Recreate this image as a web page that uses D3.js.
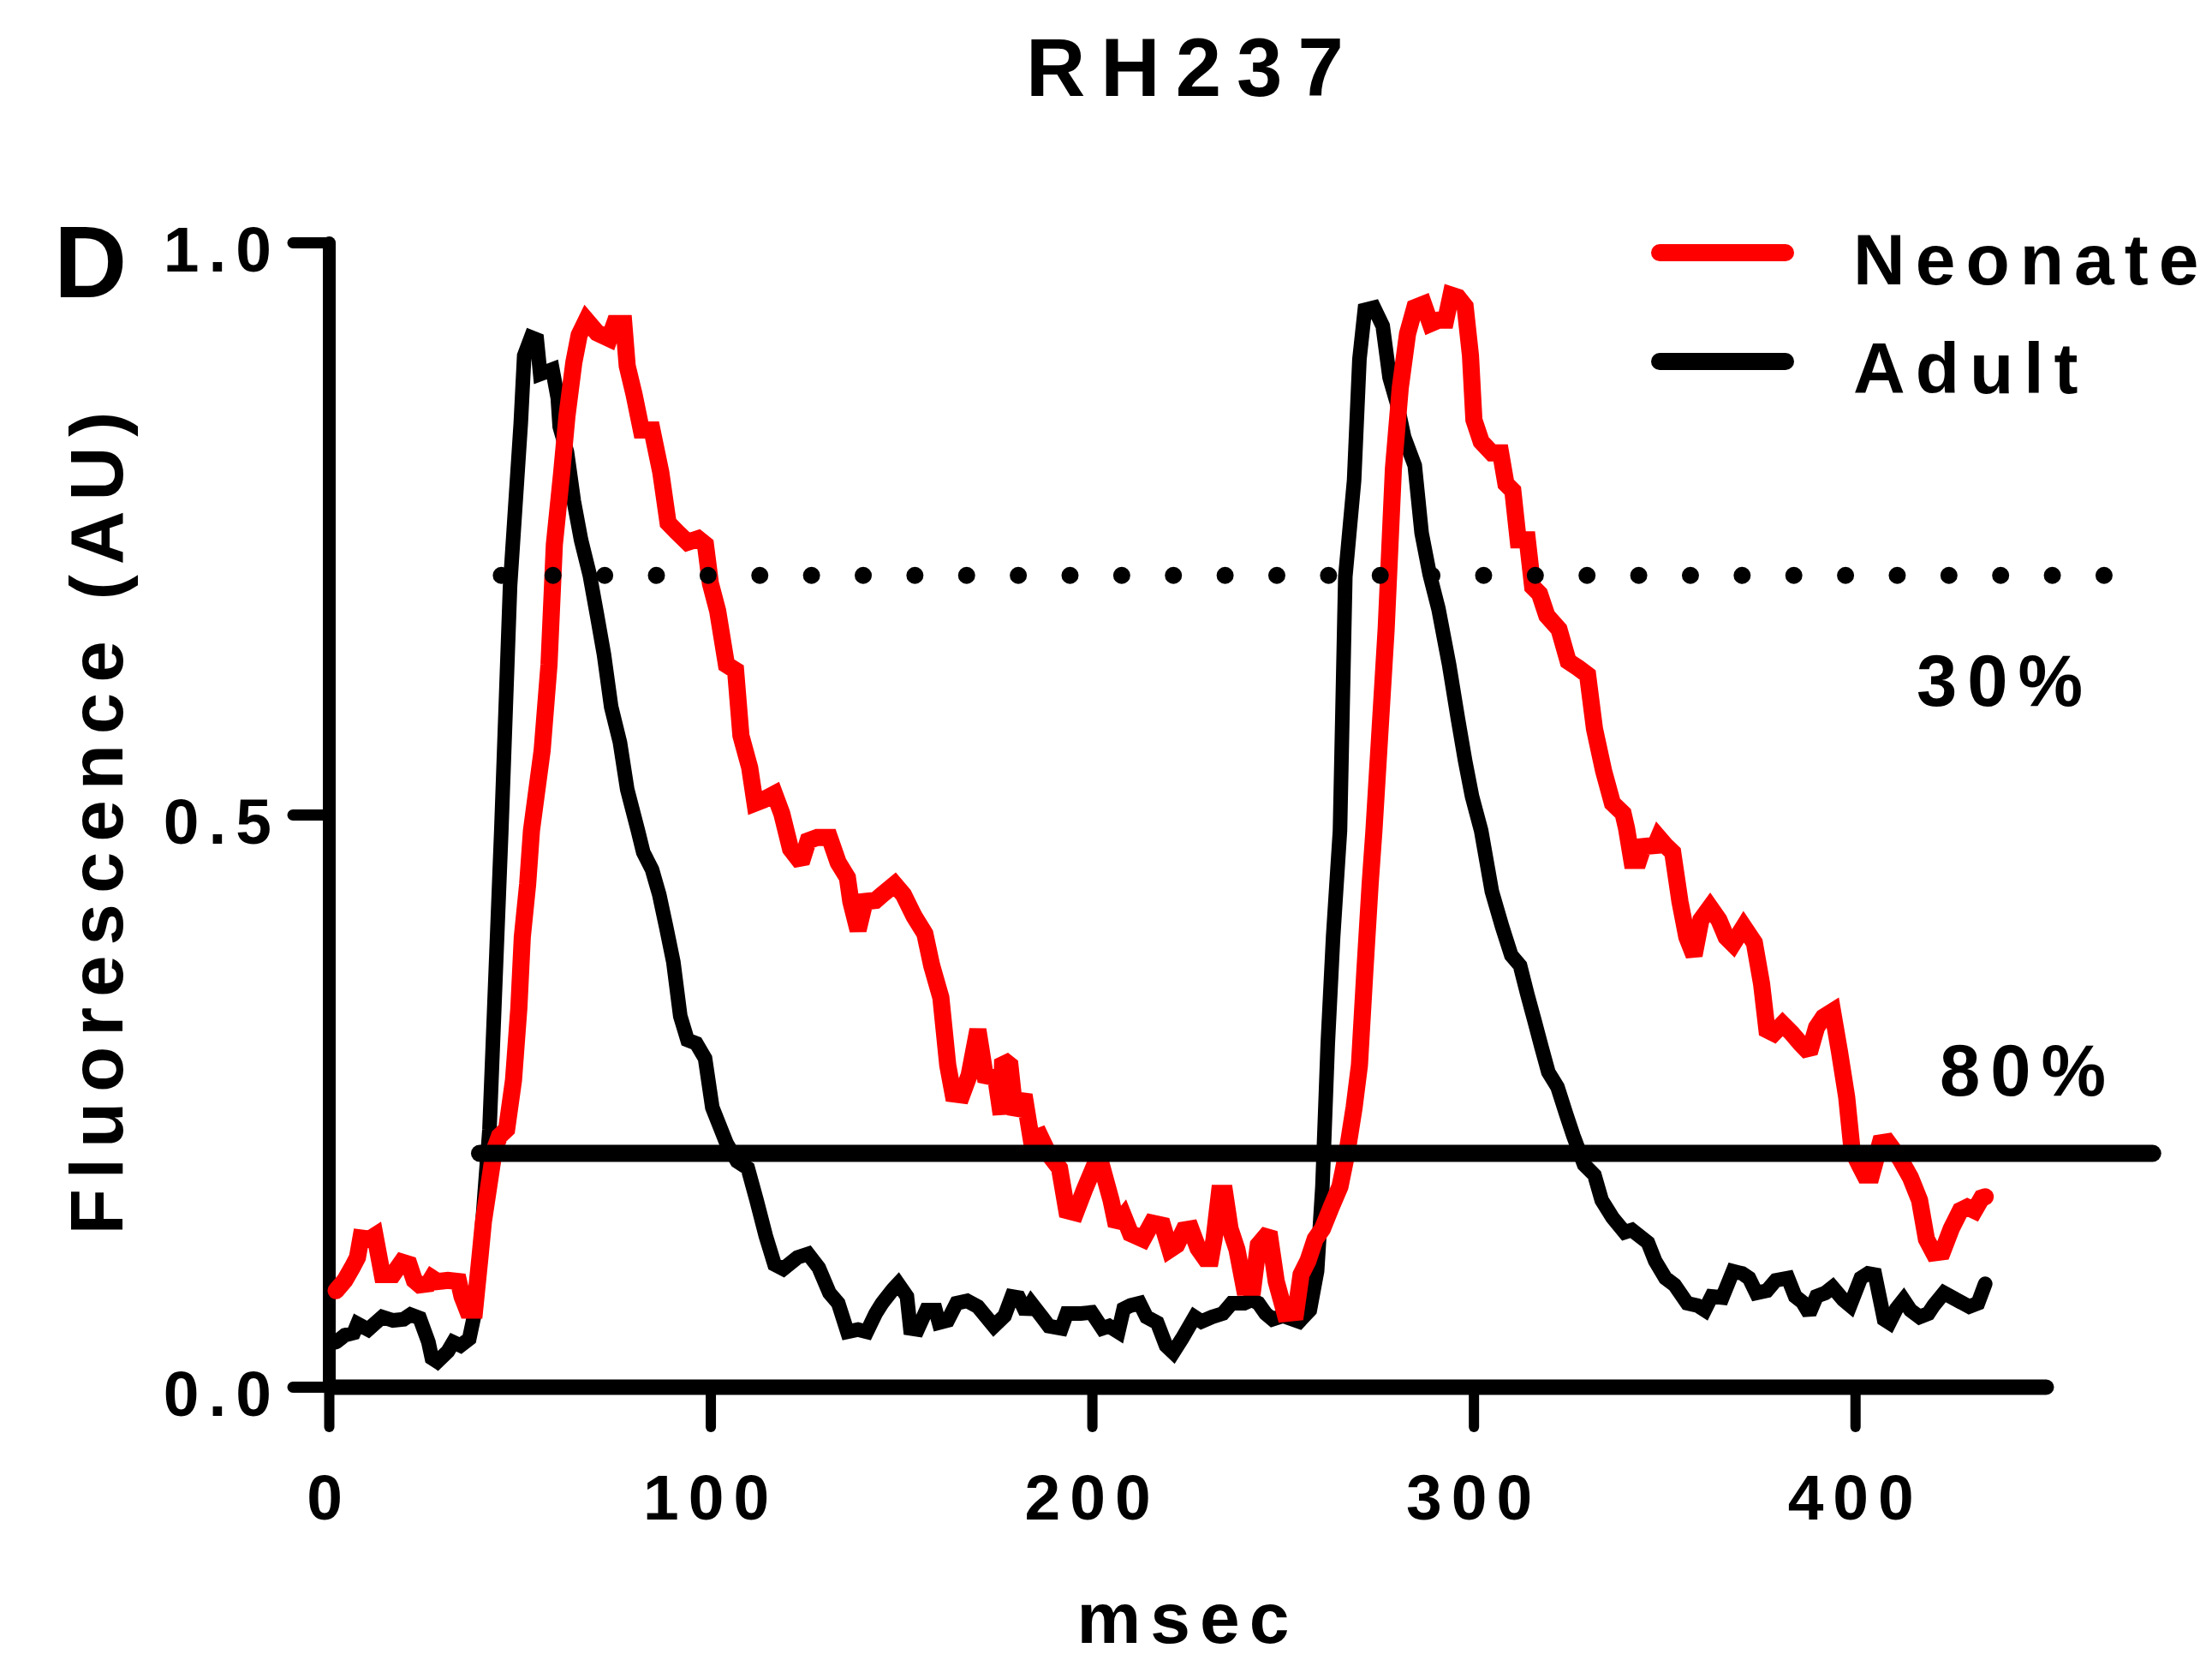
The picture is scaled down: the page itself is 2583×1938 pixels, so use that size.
<!DOCTYPE html>
<html>
<head>
<meta charset="utf-8">
<script src="https://cdn.jsdelivr.net/npm/d3@7"></script>
<style>
  body { margin: 0; background: #fff; }
  text { font-family: "Liberation Sans", Arial, sans-serif; font-weight: bold; fill: #000; }
</style>
</head>
<body>
<div class="chart"></div>
<script>
// time (msec) and fluorescence
const adultTime = [1.9, 4.2, 6.5, 7.5, 10.3, 14.0, 16.8, 19.6, 21.4, 23.8, 26.1, 27.0, 28.4, 31.2, 32.6, 34.5, 36.8, 38.2, 39.5, 42.1, 45.2, 47.5, 50.3, 51.2, 53.0, 54.5, 55.4, 58.6, 60.0, 60.5, 62.4, 64.2, 66.1, 68.4, 70.3, 72.1, 74.0, 76.3, 78.2, 81.0, 82.4, 84.7, 86.6, 88.4, 90.3, 92.1, 94.0, 96.3, 98.6, 100.5, 104.2, 107.0, 109.8, 112.1, 114.5, 116.8, 119.1, 122.8, 125.6, 128.4, 131.2, 133.5, 135.9, 138.7, 141.0, 143.3, 145.0, 147.8, 149.2, 151.5, 152.4, 154.3, 156.6, 159.0, 159.9, 162.2, 164.5, 167.3, 170.1, 174.3, 177.1, 179.0, 180.8, 182.7, 184.1, 186.9, 188.7, 192.0, 193.4, 197.1, 199.9, 202.7, 204.5, 206.9, 208.3, 210.1, 212.5, 214.3, 217.1, 219.4, 221.3, 223.6, 226.9, 228.7, 231.5, 234.3, 236.6, 239.9, 241.8, 243.6, 245.5, 247.3, 250.1, 254.3, 257.1, 259.0, 260.4, 261.8, 263.2, 265.0, 266.4, 268.7, 270.1, 271.5, 273.9, 276.2, 278.0, 279.9, 281.8, 284.6, 286.4, 288.5, 290.8, 293.6, 295.9, 297.8, 299.6, 302.0, 304.8, 307.5, 309.9, 312.2, 314.1, 315.9, 317.8, 319.6, 322.0, 324.3, 326.2, 329.0, 331.7, 333.6, 336.4, 339.6, 341.5, 345.7, 347.6, 350.3, 352.7, 356.0, 358.7, 360.6, 362.4, 365.2, 368.0, 370.4, 372.2, 374.1, 376.9, 379.2, 382.4, 384.3, 386.2, 388.0, 389.9, 392.2, 394.1, 396.9, 398.7, 401.5, 403.4, 405.2, 407.6, 409.0, 410.8, 412.7, 414.5, 416.9, 419.2, 420.6, 423.3, 426.6, 429.9, 432.2, 434.1];
const adultValue = [0.039, 0.045, 0.047, 0.055, 0.050, 0.061, 0.058, 0.059, 0.063, 0.060, 0.039, 0.025, 0.022, 0.031, 0.039, 0.036, 0.042, 0.064, 0.110, 0.225, 0.486, 0.700, 0.842, 0.901, 0.917, 0.915, 0.885, 0.889, 0.864, 0.839, 0.817, 0.774, 0.740, 0.709, 0.674, 0.640, 0.594, 0.563, 0.522, 0.486, 0.467, 0.452, 0.430, 0.402, 0.371, 0.324, 0.303, 0.300, 0.287, 0.244, 0.213, 0.197, 0.191, 0.163, 0.132, 0.107, 0.103, 0.113, 0.116, 0.104, 0.082, 0.073, 0.048, 0.050, 0.048, 0.064, 0.073, 0.085, 0.090, 0.079, 0.051, 0.050, 0.067, 0.067, 0.056, 0.058, 0.073, 0.075, 0.070, 0.053, 0.062, 0.079, 0.078, 0.065, 0.073, 0.061, 0.053, 0.051, 0.064, 0.064, 0.065, 0.051, 0.053, 0.048, 0.068, 0.071, 0.073, 0.061, 0.056, 0.036, 0.030, 0.042, 0.061, 0.057, 0.061, 0.064, 0.073, 0.073, 0.076, 0.073, 0.064, 0.059, 0.062, 0.057, 0.067, 0.101, 0.175, 0.300, 0.393, 0.486, 0.708, 0.792, 0.898, 0.941, 0.943, 0.927, 0.882, 0.860, 0.830, 0.805, 0.746, 0.710, 0.680, 0.631, 0.584, 0.547, 0.516, 0.486, 0.433, 0.402, 0.377, 0.368, 0.343, 0.321, 0.297, 0.275, 0.262, 0.238, 0.219, 0.194, 0.185, 0.163, 0.148, 0.135, 0.137, 0.126, 0.110, 0.095, 0.089, 0.073, 0.071, 0.067, 0.079, 0.078, 0.101, 0.099, 0.095, 0.082, 0.084, 0.093, 0.095, 0.079, 0.074, 0.064, 0.079, 0.082, 0.087, 0.076, 0.071, 0.095, 0.099, 0.098, 0.059, 0.056, 0.068, 0.076, 0.067, 0.061, 0.064, 0.071, 0.082, 0.076, 0.070, 0.073, 0.090];

const neonateTime = [1.9, 4.2, 6.1, 7.5, 8.4, 10.7, 12.1, 14.0, 16.8, 19.1, 21.0, 22.4, 23.8, 26.1, 27.0, 28.4, 31.2, 34.0, 34.9, 36.3, 38.2, 39.6, 40.5, 41.9, 43.3, 44.7, 46.6, 48.4, 49.8, 50.7, 52.1, 53.1, 55.9, 57.7, 59.1, 61.0, 62.4, 64.2, 65.6, 67.5, 70.3, 73.5, 74.9, 77.3, 78.2, 80.0, 81.9, 84.7, 87.0, 88.9, 91.2, 94.0, 96.8, 98.7, 100.0, 101.9, 104.2, 106.6, 108.0, 110.3, 111.7, 114.0, 116.8, 118.7, 121.0, 123.8, 125.6, 128.0, 131.2, 133.5, 135.9, 136.8, 138.7, 140.5, 143.3, 145.0, 148.3, 150.6, 153.4, 156.2, 158.0, 160.4, 162.2, 163.6, 165.9, 167.8, 170.1, 172.0, 174.8, 176.2, 176.6, 178.5, 179.9, 182.2, 184.1, 186.4, 188.7, 191.5, 193.4, 195.7, 198.0, 200.4, 202.7, 205.0, 206.4, 208.3, 210.1, 213.4, 215.7, 218.5, 220.4, 222.2, 224.1, 225.9, 227.8, 229.7, 231.1, 232.0, 233.4, 234.8, 236.2, 238.0, 239.9, 242.2, 243.6, 246.4, 248.3, 250.6, 253.4, 254.8, 256.6, 258.5, 260.4, 262.7, 265.0, 266.9, 268.7, 270.1, 271.5, 272.9, 273.9, 277.1, 279.0, 280.8, 282.7, 284.6, 286.9, 288.7, 290.8, 292.7, 294.1, 295.9, 297.8, 299.2, 300.1, 302.0, 304.8, 307.1, 308.5, 310.3, 311.7, 314.1, 315.5, 317.3, 319.2, 322.4, 324.8, 327.5, 329.9, 331.7, 334.1, 336.4, 339.2, 340.1, 341.5, 343.3, 344.5, 347.6, 348.5, 350.3, 352.2, 354.1, 355.9, 357.8, 359.6, 362.0, 364.3, 366.2, 368.0, 370.8, 373.6, 375.5, 376.9, 378.7, 381.0, 383.4, 385.7, 388.0, 389.9, 391.7, 394.1, 395.9, 397.8, 399.2, 401.1, 402.5, 404.3, 406.6, 408.5, 411.8, 414.5, 416.9, 418.7, 420.6, 422.9, 425.2, 427.6, 429.4, 431.3, 433.2, 434.1];
const neonateValue = [0.084, 0.093, 0.104, 0.113, 0.130, 0.129, 0.132, 0.098, 0.098, 0.109, 0.107, 0.093, 0.089, 0.090, 0.095, 0.092, 0.093, 0.092, 0.079, 0.067, 0.067, 0.113, 0.144, 0.175, 0.206, 0.219, 0.225, 0.268, 0.331, 0.393, 0.439, 0.486, 0.556, 0.631, 0.736, 0.798, 0.848, 0.895, 0.919, 0.932, 0.921, 0.916, 0.929, 0.929, 0.892, 0.867, 0.836, 0.836, 0.799, 0.755, 0.747, 0.738, 0.741, 0.736, 0.702, 0.678, 0.631, 0.626, 0.569, 0.541, 0.510, 0.513, 0.518, 0.501, 0.470, 0.458, 0.477, 0.480, 0.480, 0.458, 0.445, 0.424, 0.399, 0.424, 0.425, 0.430, 0.439, 0.430, 0.411, 0.396, 0.368, 0.340, 0.281, 0.256, 0.255, 0.272, 0.312, 0.272, 0.270, 0.238, 0.286, 0.281, 0.238, 0.255, 0.216, 0.219, 0.203, 0.191, 0.154, 0.152, 0.172, 0.191, 0.191, 0.163, 0.141, 0.149, 0.134, 0.129, 0.143, 0.141, 0.120, 0.124, 0.137, 0.138, 0.121, 0.112, 0.112, 0.129, 0.169, 0.169, 0.138, 0.120, 0.087, 0.087, 0.124, 0.135, 0.092, 0.064, 0.065, 0.098, 0.110, 0.129, 0.138, 0.157, 0.175, 0.206, 0.244, 0.281, 0.362, 0.439, 0.486, 0.662, 0.802, 0.873, 0.920, 0.943, 0.946, 0.929, 0.932, 0.932, 0.954, 0.952, 0.944, 0.901, 0.845, 0.826, 0.816, 0.816, 0.789, 0.783, 0.740, 0.740, 0.699, 0.693, 0.674, 0.662, 0.634, 0.628, 0.622, 0.575, 0.538, 0.510, 0.501, 0.488, 0.460, 0.460, 0.472, 0.473, 0.480, 0.473, 0.467, 0.424, 0.393, 0.377, 0.408, 0.419, 0.408, 0.393, 0.387, 0.402, 0.388, 0.352, 0.312, 0.309, 0.317, 0.309, 0.300, 0.292, 0.314, 0.323, 0.328, 0.293, 0.253, 0.207, 0.194, 0.185, 0.185, 0.213, 0.214, 0.199, 0.183, 0.163, 0.129, 0.117, 0.118, 0.138, 0.154, 0.157, 0.154, 0.165, 0.166];

const seriesNames = ["Neonate", "Adult"];
const seriesColors = ["#ff0000", "#000000"];

// repolarisation levels: 30% (dotted) and 80% (solid)
const levelLabels = ["30%", "80%"];
const levelValues = [0.709, 0.204];
const levelStart = [45.2, 39.5];
const levelEnd = [465.3, 478];

const xTicks = [0, 100, 200, 300, 400];
const yTicks = [0, 0.5, 1.0];

const width = 2583,
  height = 1938;

const svg = d3.select(".chart")
  .append("svg")
  .attr("width", width)
  .attr("height", height)
  .style("display", "block");

const x = d3.scaleLinear().domain([0, 450]).range([384, 2389]);
const y = d3.scaleLinear().domain([0, 1]).range([1619, 283]);

// axes
const xAxis = svg.append("g")
  .attr("transform", `translate(0, ${y(0)})`)
  .call(d3.axisBottom(x)
    .tickValues(xTicks)
    .tickSize(47)
    .tickSizeOuter(0)
    .tickPadding(55)
    .tickFormat(d3.format("d")));

const yAxis = svg.append("g")
  .attr("transform", `translate(${x(0)}, 0)`)
  .call(d3.axisLeft(y)
    .tickValues(yTicks)
    .tickSize(42)
    .tickSizeOuter(0)
    .tickPadding(14)
    .tickFormat(d3.format(".1f")));

xAxis.select(".domain").attr("stroke-width", 18).attr("stroke-linecap", "round");
xAxis.selectAll(".tick line").attr("stroke-width", 12).attr("stroke-linecap", "round");
yAxis.select(".domain").attr("stroke-width", 15).attr("stroke-linecap", "round");
yAxis.selectAll(".tick line").attr("stroke-width", 13).attr("stroke-linecap", "round");

xAxis.selectAll(".tick text")
  .attr("font-size", 75)
  .attr("font-family", null)
  .style("letter-spacing", "11px");
yAxis.selectAll(".tick text")
  .attr("font-size", 75)
  .attr("font-family", null)
  .attr("dy", "0.45em")
  .style("letter-spacing", "11px");

// traces, adult underneath
const line = d3.line()
  .x(d => x(d[0]))
  .y(d => y(d[1]));

const traces = [
  { name: seriesNames[1], color: seriesColors[1], width: 17, pts: d3.zip(adultTime, adultValue) },
  { name: seriesNames[0], color: seriesColors[0], width: 20, pts: d3.zip(neonateTime, neonateValue) }
];

svg.selectAll(".trace")
  .data(traces)
  .enter()
  .append("path")
  .attr("class", "trace")
  .attr("d", d => line(d.pts))
  .attr("fill", "none")
  .attr("stroke", d => d.color)
  .attr("stroke-width", d => d.width)
  .attr("stroke-linejoin", "miter")
  .attr("stroke-miterlimit", 2)
  .attr("stroke-linecap", "round");

// threshold lines
const dotGap = x(13.55) - x(0);
levelValues.forEach((v, i) => {
  svg.append("line")
    .attr("x1", x(levelStart[i]))
    .attr("x2", x(levelEnd[i]))
    .attr("y1", y(v))
    .attr("y2", y(v))
    .attr("stroke", "#000")
    .attr("stroke-width", 20)
    .attr("stroke-linecap", "round")
    .attr("stroke-dasharray", i === 0 ? `0 ${dotGap}` : null);
});

svg.append("text").attr("x", 2238).attr("y", 824)
  .attr("font-size", 85).style("letter-spacing", "12px").text(levelLabels[0]);
svg.append("text").attr("x", 2265).attr("y", 1279)
  .attr("font-size", 85).style("letter-spacing", "12px").text(levelLabels[1]);

// legend
const legend = svg.selectAll(".legend")
  .data(seriesNames)
  .enter()
  .append("g")
  .attr("class", "legend")
  .attr("transform", (d, i) => `translate(0, ${295 + i * 127})`);

legend.append("line")
  .attr("x1", 1938)
  .attr("x2", 2085)
  .attr("stroke", (d, i) => seriesColors[i])
  .attr("stroke-width", 20)
  .attr("stroke-linecap", "round");

legend.append("text")
  .attr("x", 2164)
  .attr("y", 37)
  .attr("font-size", 84)
  .style("letter-spacing", "12px")
  .text(d => d);

// titles
svg.append("text")
  .attr("x", 1198)
  .attr("y", 112)
  .attr("font-size", 96)
  .style("letter-spacing", "18px")
  .text("RH237");

svg.append("text")
  .attr("x", 63)
  .attr("y", 347)
  .attr("font-size", 118)
  .text("D");

svg.append("text")
  .attr("x", 1387)
  .attr("y", 1918)
  .attr("text-anchor", "middle")
  .attr("font-size", 84)
  .style("letter-spacing", "11px")
  .text("msec");

svg.append("text")
  .attr("transform", "translate(143, 955) rotate(-90)")
  .attr("text-anchor", "middle")
  .attr("font-size", 87)
  .style("letter-spacing", "12px")
  .text("Fluorescence (AU)");
</script>
</body>
</html>
